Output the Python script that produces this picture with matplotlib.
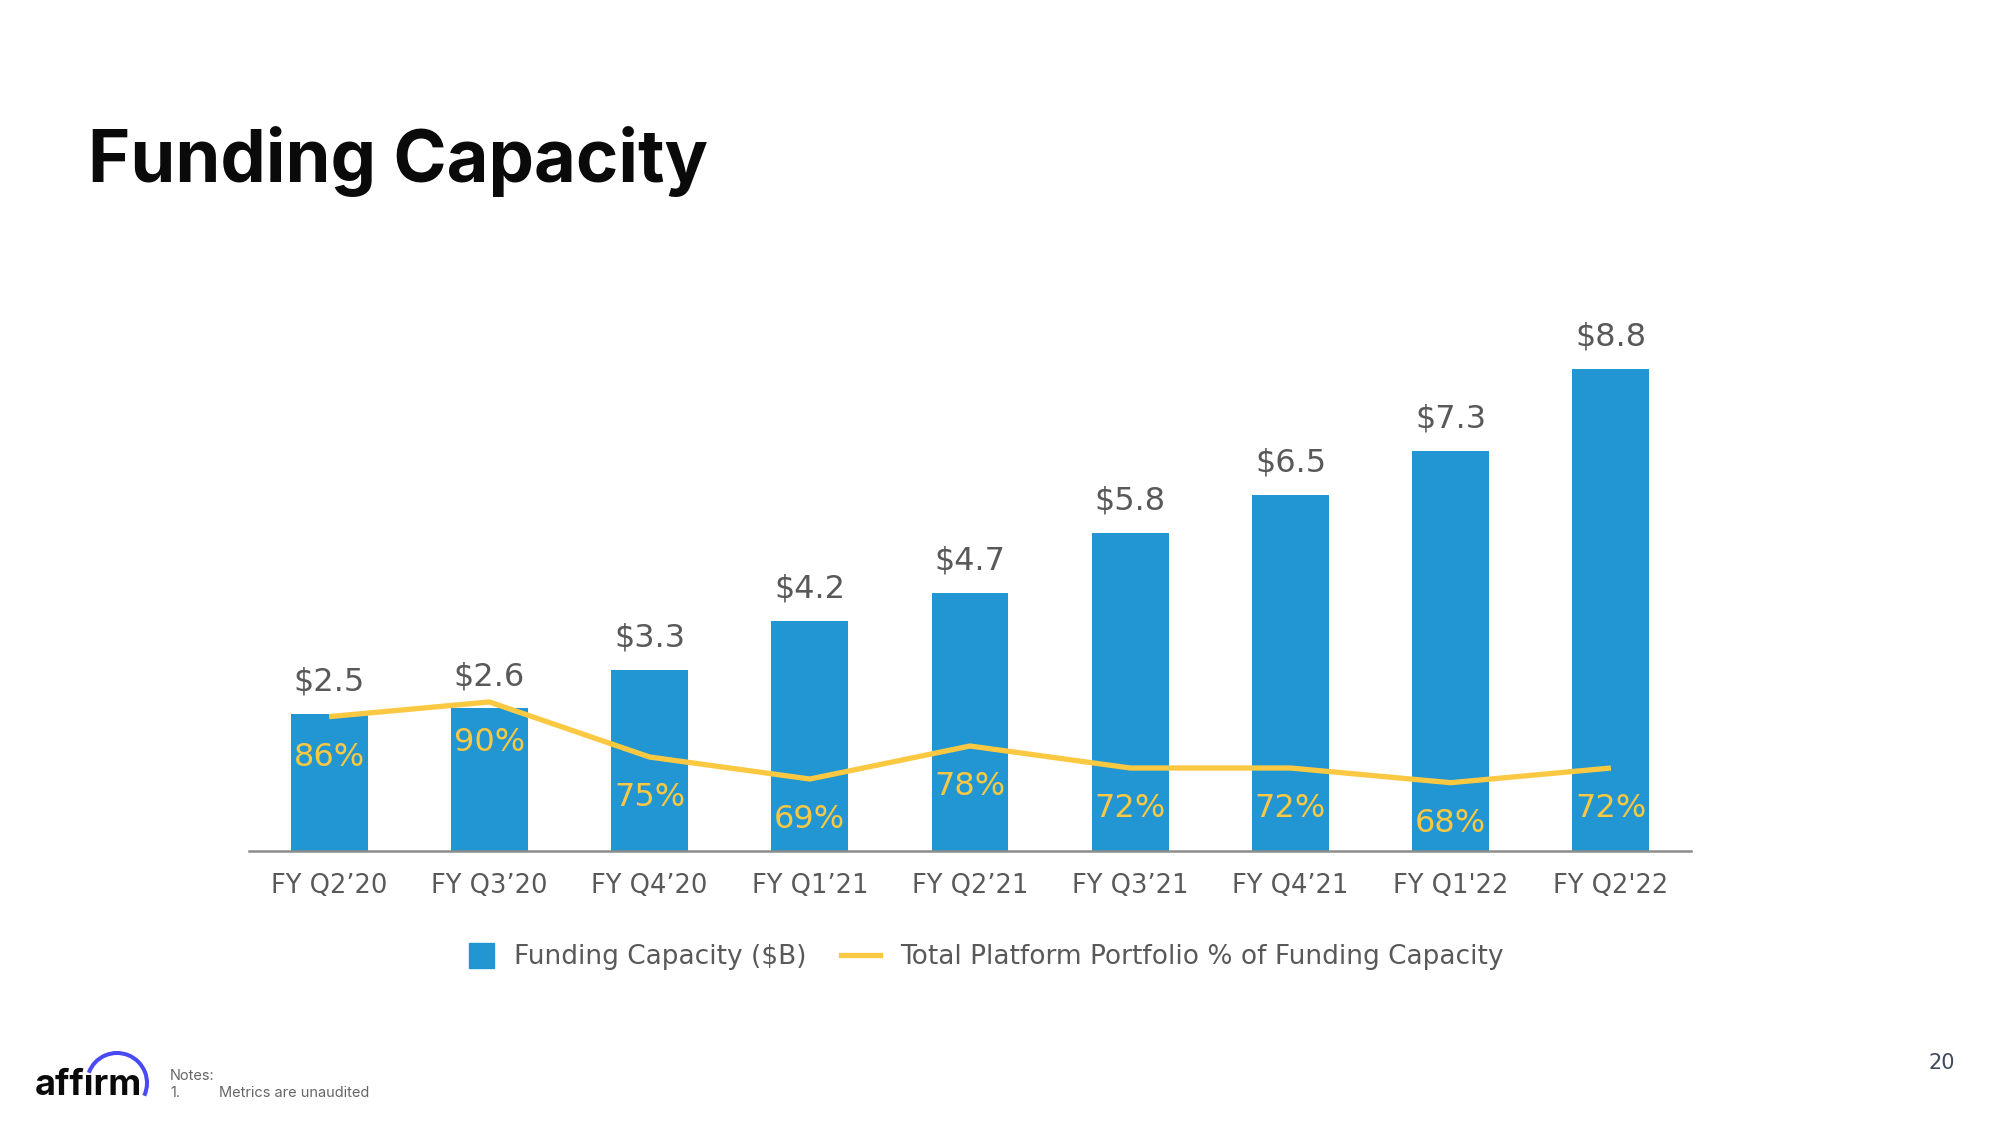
import numpy as np
import matplotlib
matplotlib.use("Agg")
import matplotlib.pyplot as plt
import matplotlib.patches as mpatches
from matplotlib.lines import Line2D
from matplotlib.legend_handler import HandlerPatch

# data
quarters = ["FY Q2\u201920", "FY Q3\u201920", "FY Q4\u201920", "FY Q1\u201921", "FY Q2\u201921",
            "FY Q3\u201921", "FY Q4\u201921", "FY Q1'22", "FY Q2'22"]
capacity = [2.5, 2.6, 3.3, 4.2, 4.7, 5.8, 6.5, 7.3, 8.8]   # $B
portfolio_pct = [86, 90, 75, 69, 78, 72, 72, 68, 72]       # %

BLUE = "#2196d3"
YELLOW = "#fbc841"
GREY = "#595959"

fig = plt.figure(figsize=(20, 11.25), dpi=100)

# main chart
ax = fig.add_axes([0.1245, 0.2436, 0.721, 0.4871])
x = np.arange(len(quarters))
bars = ax.bar(x, capacity, width=0.48, color=BLUE, zorder=2)
ax.set_xlim(-0.5, len(quarters) - 0.5)
ax.set_ylim(0, 10)
for xi, v in zip(x, capacity):
    ax.annotate("$%.1f" % v, (xi, v), xytext=(0, 23), textcoords="offset points",
                ha="center", va="center", fontsize=23, color=GREY)

ax.set_xticks(x)
ax.set_xticklabels(quarters, fontsize=18.5, color=GREY)
ax.tick_params(axis="x", length=0, pad=16)
ax.set_yticks([])
for s in ["top", "left", "right"]:
    ax.spines[s].set_visible(False)
ax.spines["bottom"].set_color("#8c8c8c")
ax.spines["bottom"].set_linewidth(1.8)

# secondary axis for the percentage line
ax2 = ax.twinx()
ax2.set_ylim(49.4, 49.4 + 548 / 3.67)
ax2.plot(x, portfolio_pct, color=YELLOW, lw=3.8, solid_capstyle="butt", zorder=3)
for xi, p in zip(x, portfolio_pct):
    ax2.annotate("%d%%" % p, (xi, p), xytext=(0, -29.5), textcoords="offset points",
                 ha="center", va="center", fontsize=23, color=YELLOW)
ax2.set_yticks([])
ax2.axis("off")


# legend with a square patch
def square_patch(legend, orig_handle, xdescent, ydescent, width, height, fontsize):
    side = height * 1.25
    return mpatches.Rectangle((-xdescent + width - side, -ydescent + (height - side) / 2),
                              side, side)


handles = [mpatches.Patch(color=BLUE, label="Funding Capacity ($B)"),
           Line2D([], [], color=YELLOW, lw=3.8, label="Total Platform Portfolio % of Funding Capacity")]
leg = fig.legend(handles=handles, loc="center", bbox_to_anchor=(0.4895, 0.149), ncol=2,
                 frameon=False, fontsize=19, handlelength=1.5, handleheight=0.8,
                 handletextpad=0.75, columnspacing=1.3,
                 handler_map={mpatches.Patch: HandlerPatch(patch_func=square_patch)})
for t in leg.get_texts():
    t.set_color(GREY)

# page decoration in pixel coordinates (y grows downwards)
page = fig.add_axes([0, 0, 1, 1], zorder=-1)
page.set_xlim(0, 2000)
page.set_ylim(1125, 0)
page.axis("off")

page.text(88, 182, "Funding Capacity", fontsize=52, fontweight="bold", family="Inter",
          color="#0a0a0a", va="baseline", ha="left")

# affirm logo (dotless i, the arc sits above it)
page.text(35, 1095, "aff\u0131rm", fontsize=26, fontweight="bold", family="Inter",
          color="#0a0a0a", va="baseline", ha="left")
page.add_patch(mpatches.Arc((117, 1083), 60, 60, theta1=-160, theta2=25,
                            color="#4a4af4", lw=2.9))

page.text(170, 1080, "Notes:", fontsize=10.5, family="Inter", color="#666666", va="baseline")
page.text(170, 1097, "1.", fontsize=10.5, family="Inter", color="#666666", va="baseline")
page.text(219, 1097, "Metrics are unaudited", fontsize=10.5, family="Inter", color="#666666",
          va="baseline")
page.text(1929, 1069, "20", fontsize=15, color="#3d4a5c", va="baseline")

fig.savefig("out.png", dpi=100, facecolor="white")
